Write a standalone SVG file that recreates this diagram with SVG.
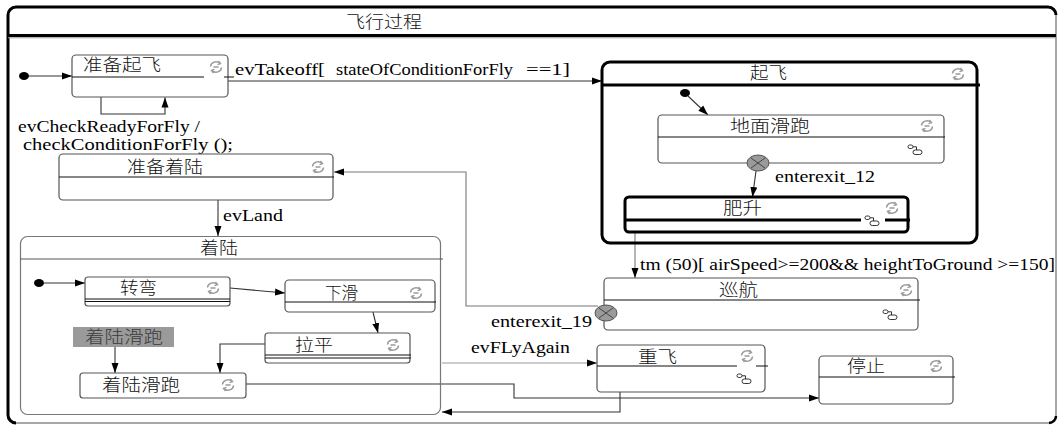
<svg xmlns="http://www.w3.org/2000/svg" xmlns:xlink="http://www.w3.org/1999/xlink" width="1059" height="425" viewBox="0 0 1059 425">
<style>
.box{fill:#fff;stroke:#555;stroke-width:1.2}
.sep{stroke:#111;stroke-width:1.1;fill:none}
.thick{fill:none;stroke:#000;stroke-width:3}
.zh{font-family:"Noto Sans CJK SC","Liberation Serif",sans-serif;font-size:17px;font-weight:300;fill:#111}
.en{font-family:"Liberation Serif","Times New Roman",serif;font-size:17px;fill:#000}
.ln{fill:none;stroke:#333;stroke-width:1.1}
.lg{fill:none;stroke:#999;stroke-width:1.1}
.dot{fill:#000}
.ee{fill:#9a9a9a;stroke:#555;stroke-width:1}
</style>
<defs>
<marker id="ah" markerUnits="userSpaceOnUse" markerWidth="11" markerHeight="8" refX="10" refY="4" orient="auto"><path d="M0,0.5 L10,4 L0,7.5 z" fill="#000"/></marker>
<g id="cyc" fill="none" stroke="#9a9a9a" stroke-width="1.5">
<path d="M-5.5,-0.5 A5.5,5 0 0 1 4,-3.6"/><path d="M2.5,-6 L4.6,-3.4 L1.5,-2.4" stroke-width="1.2"/>
<path d="M5.5,0.5 A5.5,5 0 0 1 -4,3.6"/><path d="M-2.5,6 L-4.6,3.4 L-1.5,2.4" stroke-width="1.2"/>
<line x1="-2.5" y1="0" x2="2.5" y2="0"/>
</g>
<g id="sub" fill="#fff" stroke="#333" stroke-width="1">
<rect x="-7" y="-5" width="5" height="3.5" rx="1.7"/><path d="M-2,-3.2 H1.5 V0" fill="none"/><rect x="-2" y="0" width="9" height="4.5" rx="2.2"/>
</g>
</defs>
<rect width="1059" height="425" fill="#fff"/>

<g id="frame">
<rect x="8" y="7" width="1048" height="416" rx="8" fill="#fff" stroke="#8a8a8a" stroke-width="1.5"/>
<path class="thick" d="M16,423 A8,8 0 0 1 8,415 V15 A8,8 0 0 1 16,7 H1048 A8,8 0 0 1 1056,15"/>
<path d="M1056,416 A7,7 0 0 1 1049,423" fill="none" stroke="#000" stroke-width="2.5"/>
<line x1="8" y1="35.5" x2="1056" y2="35.5" stroke="#000" stroke-width="3"/>
<line x1="8" y1="37.8" x2="1056" y2="37.8" stroke="#999" stroke-width="1"/>
<text class="zh" x="346" y="28" textLength="76" lengthAdjust="spacingAndGlyphs">飞行过程</text>
</g>

<g id="connectors">
<ellipse class="dot" cx="24" cy="76" rx="5" ry="4"/>
<line class="ln" x1="29" y1="76" x2="72" y2="76" marker-end="url(#ah)"/>
<line class="ln" x1="228" y1="81" x2="602" y2="81" marker-end="url(#ah)"/>
<text class="en" x="235" y="75" textLength="90" lengthAdjust="spacingAndGlyphs">evTakeoff[</text>
<text class="en" x="336" y="75" textLength="177" lengthAdjust="spacingAndGlyphs">stateOfConditionForFly</text>
<text class="en" x="526" y="75" textLength="44" lengthAdjust="spacingAndGlyphs">==1]</text>
<path class="ln" d="M101,97 V114 H165 V97.5" marker-end="url(#ah)"/>
<text class="en" x="18" y="132" textLength="182" lengthAdjust="spacingAndGlyphs">evCheckReadyForFly /</text>
<text class="en" x="23" y="150" textLength="210" lengthAdjust="spacingAndGlyphs">checkConditionForFly ();</text>
<path class="lg" d="M598,306 H466 V172 H334" marker-end="url(#ah)" style="stroke:#777"/>
<line class="ln" x1="218" y1="200" x2="218" y2="236" marker-end="url(#ah)"/>
<text class="en" x="223" y="221" textLength="60" lengthAdjust="spacingAndGlyphs">evLand</text>
<ellipse class="dot" cx="39" cy="283" rx="5" ry="4"/>
<line class="ln" x1="44" y1="283" x2="85" y2="283" marker-end="url(#ah)"/>
<line class="ln" x1="230" y1="288" x2="285" y2="293" marker-end="url(#ah)"/>
<line class="ln" x1="373" y1="312" x2="378" y2="333" marker-end="url(#ah)"/>
<path class="ln" d="M265,344 H220 V373" marker-end="url(#ah)"/>
<line class="ln" x1="115" y1="347" x2="115" y2="373" marker-end="url(#ah)"/>
<path class="ln" d="M246,384 H514 V398 H819" marker-end="url(#ah)"/>
<path class="ln" d="M620,392 V412 H442" marker-end="url(#ah)"/>
<line class="lg" x1="442" y1="363" x2="597" y2="363" marker-end="url(#ah)"/>
<text class="en" x="471" y="353" textLength="99" lengthAdjust="spacingAndGlyphs">evFLyAgain</text>
<line class="ln" x1="635" y1="233" x2="635" y2="278" marker-end="url(#ah)" style="stroke:#777"/>
<text class="en" x="640" y="270" textLength="415" lengthAdjust="spacingAndGlyphs">tm (50)[ airSpeed&gt;=200&amp;&amp; heightToGround &gt;=150]</text>
<ellipse class="dot" cx="685" cy="93" rx="5" ry="4"/>
<line class="ln" x1="688" y1="96" x2="708" y2="115" marker-end="url(#ah)"/>
<line class="ln" x1="756" y1="171" x2="752.5" y2="197" marker-end="url(#ah)"/>
</g>

<g id="n-zhunbeiqifei">
<rect class="box" x="72" y="55" width="156" height="42" rx="4"/>
<path class="sep" d="M72,77 H204 M224,77 H234"/>
<text class="zh" x="83" y="71" textLength="78" lengthAdjust="spacingAndGlyphs">准备起飞</text>
<use href="#cyc" x="216" y="67"/>
</g>

<g id="n-qifei">
<rect x="602" y="62" width="375" height="181" rx="8" fill="none" stroke="#000" stroke-width="3"/>
<line x1="602" y1="85" x2="980" y2="85" stroke="#000" stroke-width="3"/>
<text class="zh" x="750" y="79" textLength="37" lengthAdjust="spacingAndGlyphs">起飞</text>
<use href="#cyc" x="958" y="74"/>
</g>

<g id="n-dimianhuapao">
<rect class="box" x="658" y="115" width="286" height="48" rx="4"/>
<line class="sep" x1="658" y1="137" x2="945" y2="137"/>
<text class="zh" x="730" y="132" textLength="80" lengthAdjust="spacingAndGlyphs">地面滑跑</text>
<use href="#cyc" x="927" y="126"/>
<use href="#sub" x="915" y="150"/>
</g>

<g id="n-enterexit12">
<ellipse class="ee" cx="758" cy="163" rx="11" ry="8"/>
<path d="M751,158 L765,168 M765,158 L751,168" stroke="#444" stroke-width="1"/>
<text class="en" x="775" y="182" textLength="100" lengthAdjust="spacingAndGlyphs">enterexit_12</text>
</g>

<g id="n-pasheng">
<rect x="625" y="197" width="283" height="35" rx="4" fill="none" stroke="#000" stroke-width="3"/>
<path d="M625,220 H861 M885,220 H910" stroke="#000" stroke-width="3" fill="none"/>
<text class="zh" x="723" y="214" textLength="39" lengthAdjust="spacingAndGlyphs">肥升</text>
<use href="#cyc" x="892" y="208"/>
<use href="#sub" x="872" y="221"/>
</g>

<g id="n-zhunbeizhaolu">
<rect class="box" x="59" y="154" width="274" height="46" rx="4"/>
<line class="sep" x1="59" y1="177" x2="334" y2="177"/>
<text class="zh" x="127" y="173" textLength="76" lengthAdjust="spacingAndGlyphs">准备着陆</text>
<use href="#cyc" x="318" y="167"/>
</g>

<g id="n-zhaolu">
<rect x="20.5" y="236.5" width="420" height="178" rx="7" fill="none" stroke="#777" stroke-width="1.2"/>
<line class="sep" x1="20" y1="259" x2="443" y2="259" style="stroke:#555"/>
<text class="zh" x="200" y="254" textLength="38" lengthAdjust="spacingAndGlyphs">着陆</text>
</g>

<g id="n-zhuanwan">
<rect class="box" x="85" y="277" width="145" height="29" rx="3"/>
<path class="sep" d="M85,299 H230 M85,301.5 H230"/>
<text class="zh" x="120" y="294" textLength="37" lengthAdjust="spacingAndGlyphs">转弯</text>
<use href="#cyc" x="213" y="288"/>
</g>

<g id="n-xiahua">
<rect class="box" x="285" y="280" width="150" height="32" rx="4"/>
<line class="sep" x1="285" y1="302" x2="436" y2="302"/>
<text class="zh" x="325" y="299" textLength="33" lengthAdjust="spacingAndGlyphs">下滑</text>
<use href="#cyc" x="416" y="293"/>
</g>

<g id="n-laping">
<rect class="box" x="265" y="333" width="145" height="30" rx="3"/>
<path class="sep" d="M265,355 H411 M265,358 H411"/>
<text class="zh" x="295" y="351" textLength="38" lengthAdjust="spacingAndGlyphs">拉平</text>
<use href="#cyc" x="393" y="345"/>
</g>

<g id="n-label-zhaoluhuapao">
<rect x="73" y="327" width="101" height="20" fill="#9a9a9a"/>
<text class="zh" x="85" y="343" textLength="78" lengthAdjust="spacingAndGlyphs" style="fill:#3a3a3a">着陆滑跑</text>
</g>

<g id="n-zhaoluhuapao">
<rect class="box" x="80" y="373" width="166" height="25" rx="3"/>
<text class="zh" x="102" y="391" textLength="78" lengthAdjust="spacingAndGlyphs">着陆滑跑</text>
<use href="#cyc" x="228" y="385"/>
</g>

<g id="n-xunhang">
<rect class="box" x="604" y="278" width="314" height="52" rx="4"/>
<line class="sep" x1="604" y1="300" x2="920" y2="300"/>
<text class="zh" x="719" y="296" textLength="39" lengthAdjust="spacingAndGlyphs">巡航</text>
<use href="#cyc" x="906" y="290"/>
<use href="#sub" x="890" y="315"/>
</g>

<g id="n-enterexit19">
<ellipse class="ee" cx="606" cy="313" rx="11" ry="8"/>
<path d="M599,308 L613,318 M613,308 L599,318" stroke="#444" stroke-width="1"/>
<text class="en" x="491" y="327" textLength="101" lengthAdjust="spacingAndGlyphs">enterexit_19</text>
</g>

<g id="n-chongfei">
<rect class="box" x="597" y="345" width="168" height="47" rx="4"/>
<path class="sep" d="M597,366 H737 M756,366 H768"/>
<text class="zh" x="638" y="363" textLength="39" lengthAdjust="spacingAndGlyphs">重飞</text>
<use href="#cyc" x="747" y="356"/>
<use href="#sub" x="744" y="379"/>
</g>

<g id="n-tingzhi">
<rect class="box" x="819" y="356" width="134" height="48" rx="4"/>
<line class="sep" x1="819" y1="377" x2="955" y2="377"/>
<text class="zh" x="847" y="372" textLength="38" lengthAdjust="spacingAndGlyphs">停止</text>
<use href="#cyc" x="936" y="366"/>
</g>
</svg>
